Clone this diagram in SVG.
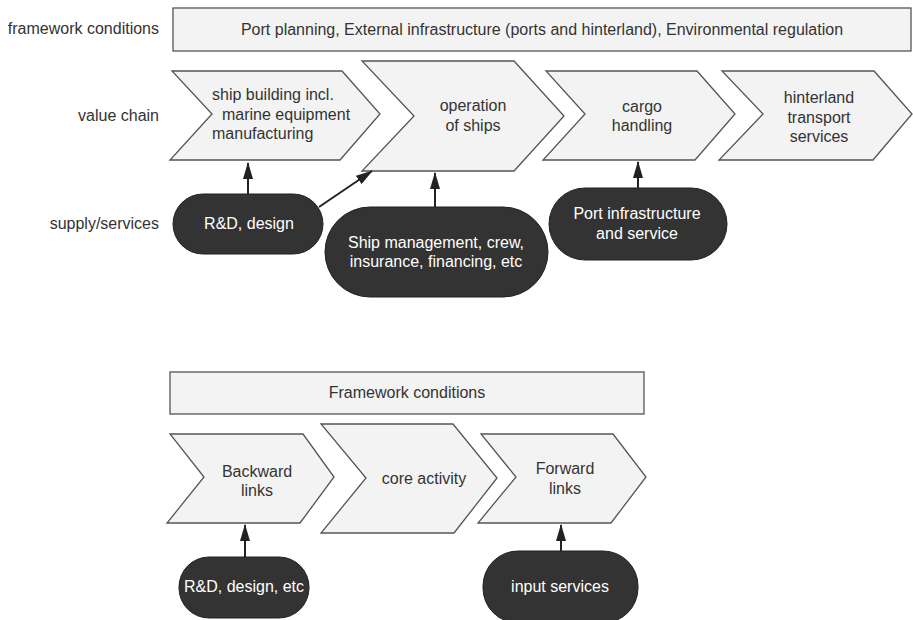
<svg xmlns="http://www.w3.org/2000/svg" width="913" height="620" viewBox="0 0 913 620">
<style>
text{font-family:"Liberation Sans",Arial,sans-serif;font-size:16px;fill:#333}
.c{text-anchor:middle}
.lbl{text-anchor:end}
.box{fill:#f3f3f3;stroke:#555;stroke-width:1.3}
.pill{fill:#333;stroke:#222;stroke-width:1}
.w{fill:#fff;text-anchor:middle}
.arr{stroke:#222;stroke-width:2;fill:none;marker-end:url(#ah)}
</style>
<defs>
<marker id="ah" viewBox="0 0 17 10" refX="16" refY="5" markerWidth="17" markerHeight="10" markerUnits="userSpaceOnUse" orient="auto">
<path d="M0,0 L17,5 L0,10 Z" fill="#222"/>
</marker>
</defs>
<rect width="913" height="620" fill="#fff"/>
<g id="row-labels">
<text class="lbl" x="159" y="34">framework conditions</text>
<text class="lbl" x="159" y="121">value chain</text>
<text class="lbl" x="159" y="229">supply/services</text>
</g>
<g id="framework-top">
<rect class="box" x="173" y="8" width="738" height="43"/>
<text class="c" x="542" y="35">Port planning, External infrastructure (ports and hinterland), Environmental regulation</text>
</g>
<g id="shipbuilding">
<polygon class="box" points="172,71 342,71 380,114 340,160 170,160 212,114"/>
<text x="212" y="100">ship building incl.</text>
<text x="222" y="120">marine equipment</text>
<text x="212" y="139">manufacturing</text>
</g>
<g id="operation">
<polygon class="box" points="362,61 514,61 564,116 514,171 362,171 414,116"/>
<text class="c" x="473" y="111">operation</text>
<text class="c" x="473" y="131">of ships</text>
</g>
<g id="cargo">
<polygon class="box" points="546,71 697,71 735,114 695,160 543,160 585,114"/>
<text class="c" x="642" y="112">cargo</text>
<text class="c" x="642" y="131">handling</text>
</g>
<g id="hinterland">
<polygon class="box" points="722,71 874,71 912,114 873,160 719,160 763,114"/>
<text class="c" x="819" y="103">hinterland</text>
<text class="c" x="819" y="123">transport</text>
<text class="c" x="819" y="142">services</text>
</g>
<g id="rnd">
<rect class="pill" x="173" y="194" width="150" height="60" rx="30"/>
<text class="w" x="249" y="229">R&amp;D, design</text>
</g>
<g id="shipmgmt">
<rect class="pill" x="325" y="207" width="223" height="90" rx="45"/>
<text class="w" x="436" y="248">Ship management, crew,</text>
<text class="w" x="436" y="267">insurance, financing, etc</text>
</g>
<g id="portinfra">
<rect class="pill" x="549" y="188" width="178" height="72" rx="36"/>
<text class="w" x="637" y="219">Port infrastructure</text>
<text class="w" x="637" y="239">and service</text>
</g>
<g id="framework-bottom">
<rect class="box" x="170" y="372" width="474" height="42"/>
<text class="c" x="407" y="398">Framework conditions</text>
</g>
<g id="backward">
<polygon class="box" points="170,434 303,434 334,477 300,523 167,523 204,477"/>
<text class="c" x="257" y="477">Backward</text>
<text class="c" x="257" y="496">links</text>
</g>
<g id="core">
<polygon class="box" points="321,424 453,424 497,478 454,533 321,533 366,478"/>
<text class="c" x="424" y="484">core activity</text>
</g>
<g id="forward">
<polygon class="box" points="481,434 613,434 646,477 611,523 478,523 516,477"/>
<text class="c" x="565" y="474">Forward</text>
<text class="c" x="565" y="494">links</text>
</g>
<g id="rnd-etc">
<rect class="pill" x="179" y="557" width="130" height="61" rx="30"/>
<text class="w" x="244" y="592">R&amp;D, design, etc</text>
</g>
<g id="input">
<rect class="pill" x="483" y="551" width="155" height="72" rx="35"/>
<text class="w" x="560" y="592">input services</text>
</g>
<g id="connectors">
<line class="arr" x1="248" y1="194" x2="248" y2="163"/>
<line class="arr" x1="319" y1="207" x2="372" y2="171"/>
<line class="arr" x1="435" y1="207" x2="435" y2="173"/>
<line class="arr" x1="638" y1="188" x2="638" y2="162"/>
<line class="arr" x1="245" y1="557" x2="245" y2="525"/>
<line class="arr" x1="561" y1="551" x2="561" y2="525"/>
</g>
</svg>
